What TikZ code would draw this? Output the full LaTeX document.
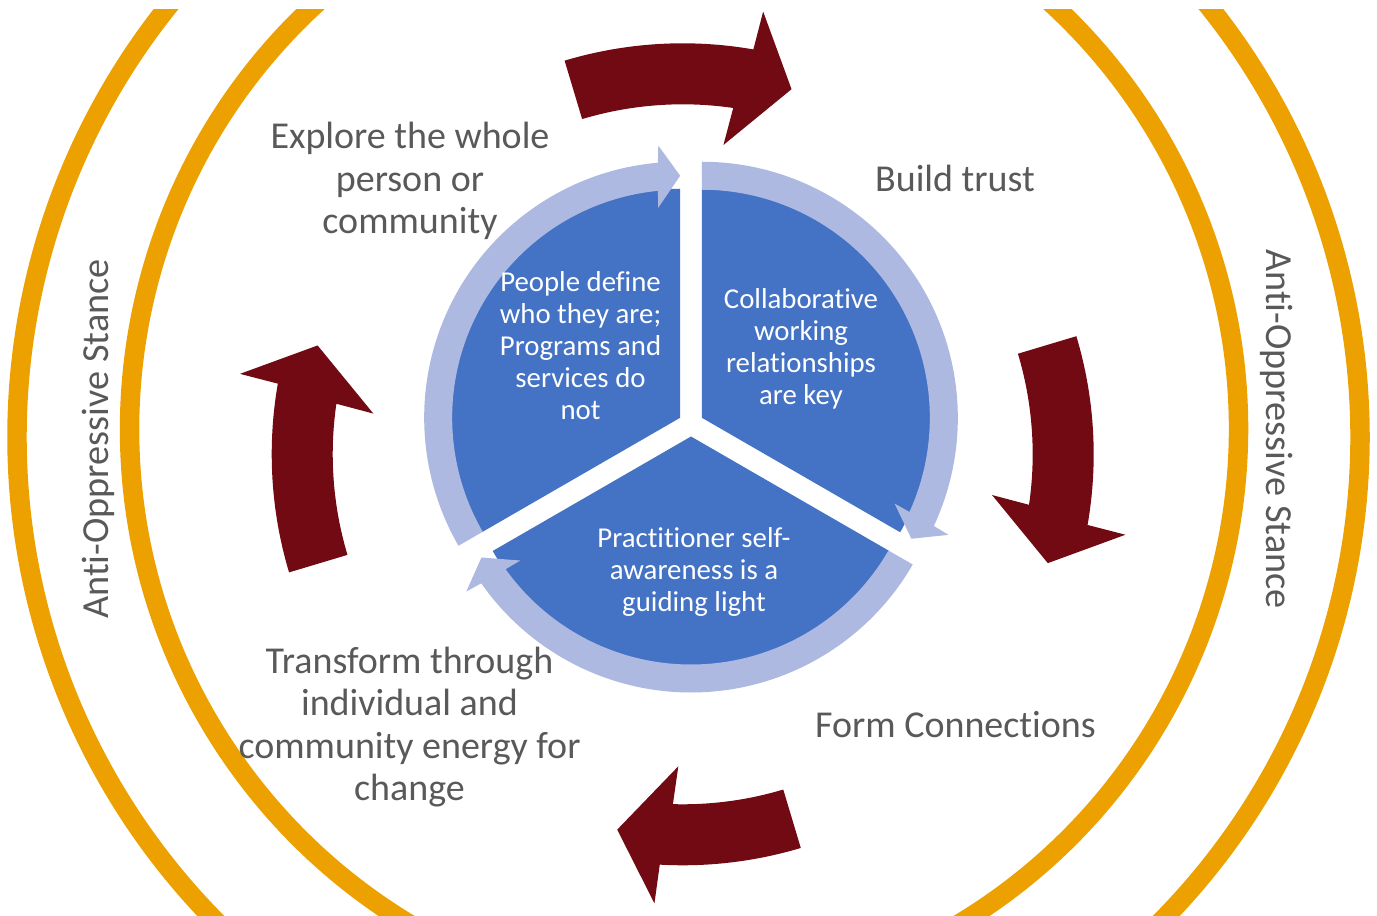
\documentclass[tikz,border=0pt]{standalone}
\usepackage{fontspec}
\setmainfont{Carlito}[RawFeature={-liga;-calt;-clig}]
\definecolor{stanceorange}{RGB}{237,161,0}
\definecolor{cyclered}{RGB}{114,10,20}
\definecolor{segblue}{RGB}{68,114,196}
\definecolor{ringblue}{RGB}{173,185,224}
\definecolor{labelgrey}{RGB}{89,89,89}

\begin{document}
\begin{tikzpicture}[x=0.75pt, y=0.75pt,
    stance arc/.style={draw=stanceorange, line width=14.6pt},
    step label/.style={align=center, text=labelgrey, font=\fontsize{28.5}{31.9}\selectfont},
    segment label/.style={align=center, text=white, font=\fontsize{21.6}{24}\selectfont},
    stance label/.style={text=labelgrey, font=\fontsize{28.7}{31}\selectfont}]

\useasboundingbox (0,0) rectangle (1377,915);

\begin{scope}
\clip (0,0) rectangle (1377,905);
\foreach \cx/\cy/\r/\a/\b in {706/478/689/135/230, 707.6/486/578/125/245,
                              660.4/486/578/-65/55, 671/478/689/-50/45}
    \draw [stance arc] (\cx,\cy) ++(\a:\r)
        arc [start angle=\a, end angle=\b, radius=\r];
\end{scope}

\foreach \s/\t in {106.7/73.4, 16.7/-16.6, 196.7/163.4, 286.7/260.1}
    \fill [cyclered, shift={(682.7,460.7)}]
        (\s:350) arc [start angle=\s, end angle=\t+8.3, radius=350]
        -- ({\t+9.1}:312) -- (\t:381) -- ({\t+6.3}:450) -- ({\t+6.7}:411)
        arc [start angle=\t+6.7, end angle=\s, radius=411] -- cycle;

\coordinate (hub) at (691,491);

\foreach \m in {150, 30, 270}
    \fill [segblue, shift={(hub)}, shift={(\m:12.5)}]
        (0,0) -- ({\m+60}:229) arc [start angle=\m+60, end angle=\m-60, radius=229] -- cycle;

\foreach \m in {150, 30, 270}
    \fill [ringblue, shift={(hub)}, shift={(\m:12.5)}]
        ({\m+60}:228) arc [start angle=\m+60, end angle=\m-54.4, radius=228]
        -- ({\m-54}:211) -- ({\m-60}:242) -- ({\m-55.4}:273) -- ({\m-55}:256)
        arc [start angle=\m-55, end angle=\m+60, radius=256] -- cycle;

\foreach \x/\y/\l [count=\i] in {410/734/{Explore the whole\\person or\\community},
                                 955/737/{Build trust},
                                 955.5/190/{Form Connections},
                                 409.5/188/{Transform through\\individual and\\community energy for\\change}}
    \node [step label] (step-\i) at (\x,\y) {\l};

\foreach \x/\y/\l [count=\i] in {580.5/569/{People define\\who they are;\\Programs and\\services do\\not},
                                 801/566/{Collaborative\\working\\relationships\\are key},
                                 694/343/{Practitioner self-\\awareness is a\\guiding light}}
    \node [segment label] (segment-\i) at (\x,\y) {\l};

\node [stance label, rotate=90] (stance-left) at (98,476) {Anti-Oppressive Stance};
\node [stance label, rotate=-90] (stance-right) at (1277,486) {Anti-Oppressive Stance};

\end{tikzpicture}
\end{document}
